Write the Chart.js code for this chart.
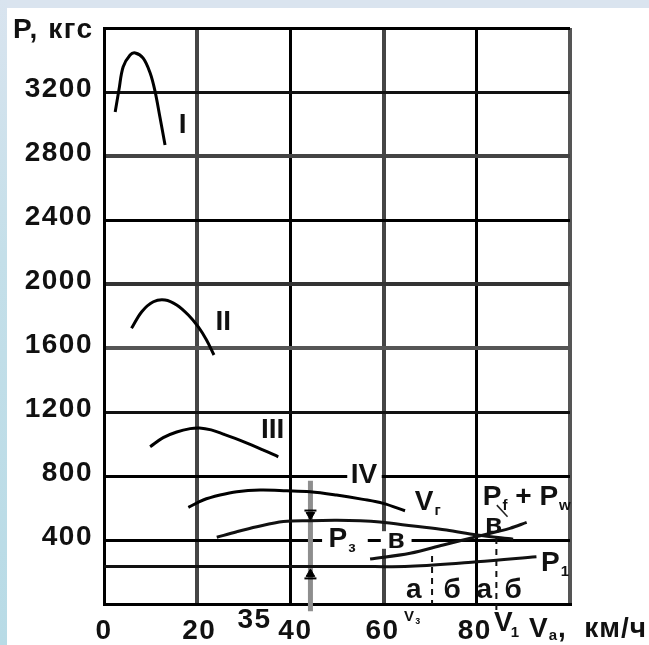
<!DOCTYPE html>
<html>
<head>
<meta charset="utf-8">
<script src="https://cdn.jsdelivr.net/npm/chart.js@4.4.1/dist/chart.umd.min.js"></script>
<style>
html,body{margin:0;padding:0;background:#fff;overflow:hidden;}
#wrap{position:relative;width:649px;height:645px;background:#fff;}
#topStrip{position:absolute;left:0;top:0;width:649px;height:8px;background:#dae4ef;}
#leftStrip{position:absolute;left:0;top:0;width:7px;height:645px;background:linear-gradient(to bottom,#d9e4ef,#c4dfe9 40%,#b8dbe6);}
canvas{position:absolute;left:0;top:0;}
</style>
</head>
<body>
<div id="wrap"><div id="topStrip"></div><div id="leftStrip"></div><canvas id="c" width="649" height="645"></canvas></div>
<script>
// ---- data (speed in km/h, force in kgf) ----
const speedI   = [2.4, 3.2, 4.1, 5.6, 6.7, 8.4, 9.9, 10.9, 12.0, 13.1];
const forceI   = [3075, 3212, 3356, 3431, 3444, 3412, 3319, 3212, 3044, 2869];
const speedII  = [5.9, 8.1, 10.6, 13.1, 15.6, 18.1, 20.2, 22.0, 23.6];
const forceII  = [1723, 1827, 1889, 1900, 1869, 1806, 1733, 1650, 1556];
const speedIII = [9.9, 12.7, 15.6, 18.5, 20.5, 23.0, 25.6, 29.9, 34.2, 37.4];
const forceIII = [983, 1040, 1075, 1096, 1100, 1088, 1062, 1015, 962, 920];
const speedIV  = [18.1, 21.3, 24.9, 28.5, 33.5, 39.2, 44.2, 49.9, 55.6, 59.9, 64.6];
const forceIV  = [604, 650, 681, 702, 712, 708, 702, 681, 654, 629, 583];
const speedPk  = [24.2, 28.5, 32.8, 38.5, 44.2, 50.0, 55.0, 59.2, 66.4, 73.5, 80.0, 87.8];
const forcePk  = [417, 452, 483, 515, 521, 523, 520, 512, 487, 462, 431, 405];
const speedPfw = [57.1, 65.7, 72.8, 80.0, 87.1, 90.7];
const forcePfw = [281, 317, 369, 421, 473, 510];
const speedP1  = [0, 20, 40, 55, 65.7, 80, 92.8];
const forceP1  = [235, 235, 235, 234, 236, 264, 296];
// reserve-force dimension line at 44.3 km/h, speeds V3 and V1
const reserveSpeed = 44.3;
const reserveTop = 770, reserveBottom = -45;
const arrowDownForce = 556, arrowUpForce = 188;
const barTopForce = 584, barBottomForce = 160;
const v3Speed = 70.4, v3Top = 300;
const v1Speed = 84.2, v1Top = 412, v1Bottom = -60;
// tick labels
const yTickValues = [400, 800, 1200, 1600, 2000, 2400, 2800, 3200];
const yTickLabels = ['400','800','1200','1600','2000','2400','2800','3200'];
const xTickValues = [0, 20, 40, 60, 80];
const xTickLabels = ['0','20','40','60','80'];
const yTitle = 'P, кгс';

const pts = (xs, ys) => xs.map((v, i) => ({x: v, y: ys[i]}));

const FONT = 'bold 28px "Liberation Sans", Arial, sans-serif';
const SUBFONT = 'bold 15px "Liberation Sans", Arial, sans-serif';

function curve(xs, ys, color){
  return {data: pts(xs, ys), showLine: true, borderColor: color || '#000', borderWidth: 3,
          pointRadius: 0, tension: 0.35, fill: false};
}

// text annotations in data coordinates
const notes = [
  {t:'I', x:16.9, y:2994}, {t:'II', x:25.6, y:1762}, {t:'III', x:36.2, y:1087},
  {t:'IV', x:55.8, y:806}, {t:'V', sub:'г', x:68.7, y:637},
  {t:'P', sub:'з', x:50.2, y:406}, {t:'в', x:62.7, y:400},
  {t:'P', sub:'f', x:83.3, y:669, after:' + P', sub2:'w'},
  {t:'в', x:83.6, y:494}, {t:'P', sub:'1', x:95.8, y:256},
  {t:'а', x:66.5, y:88}, {t:'б', x:74.7, y:88}, {t:'а', x:81.6, y:88}, {t:'б', x:87.8, y:88}
];
const whiteBoxes = [
  {x0:52.2, x1:59.6, y0:720, y1:885},
  {x0:46.8, x1:56.6, y0:340, y1:470},
  {x0:59.4, x1:66.0, y0:345, y1:455}
];

const textPlugin = {
  id: 'texts',
  beforeDatasetsDraw(chart){
    const {ctx, scales:{x, y}} = chart;
    ctx.save(); ctx.fillStyle = '#fff';
    whiteBoxes.forEach(b => {
      const px0 = x.getPixelForValue(b.x0), px1 = x.getPixelForValue(b.x1);
      const py0 = y.getPixelForValue(b.y0), py1 = y.getPixelForValue(b.y1);
      ctx.fillRect(px0, py1, px1 - px0, py0 - py1);
    });
    ctx.restore();
  },
  afterDatasetsDraw(chart){
    const {ctx, scales:{x, y}, chartArea} = chart;
    ctx.save();
    ctx.fillStyle = '#111';
    ctx.textBaseline = 'middle';
    // y tick labels
    ctx.font = FONT; ctx.textAlign = 'right';
    ctx.letterSpacing = '1.5px';
    yTickValues.forEach((v, i) => ctx.fillText(yTickLabels[i], chartArea.left - 11, y.getPixelForValue(v) - 3));
    ctx.textAlign = 'left';
    ctx.fillText(yTitle, 13, 30);
    // x tick labels
    ctx.textAlign = 'center';
    const by = chartArea.bottom + 27;
    const xShift = [0, 2, 5, -1, -2];
    xTickValues.forEach((v, i) => ctx.fillText(xTickLabels[i], x.getPixelForValue(v) + xShift[i], by));
    ctx.fillText('35', x.getPixelForValue(32.3), by - 11);
    ctx.letterSpacing = '0px';
    // V3 small
    ctx.textAlign = 'left';
    ctx.font = 'bold 15px "Liberation Sans", Arial, sans-serif';
    ctx.fillText('V', x.getPixelForValue(64.4), by - 14);
    ctx.font = 'bold 10px "Liberation Sans", Arial, sans-serif';
    ctx.fillText('з', x.getPixelForValue(66.8), by - 10);
    // V1
    ctx.font = FONT;
    ctx.fillText('V', x.getPixelForValue(83.7), by - 8);
    ctx.font = SUBFONT;
    ctx.fillText('1', x.getPixelForValue(87.3), by + 2);
    // Va, km/h
    ctx.font = FONT;
    ctx.letterSpacing = '1px';
    const vx = x.getPixelForValue(91.2);
    ctx.fillText('V', vx, by - 2);
    let w = ctx.measureText('V').width;
    ctx.font = SUBFONT;
    ctx.fillText('a', vx + w, by + 5);
    let w2 = ctx.measureText('a').width;
    ctx.font = FONT;
    ctx.fillText(',  км/ч', vx + w + w2, by - 2);
    ctx.letterSpacing = '0px';
    // in-plot notes
    notes.forEach(n => {
      ctx.font = FONT;
      ctx.textAlign = 'center';
      const px = x.getPixelForValue(n.x), py = y.getPixelForValue(n.y);
      ctx.fillText(n.t, px, py);
      let cx = px + ctx.measureText(n.t).width / 2;
      if (n.sub){
        ctx.font = SUBFONT; ctx.textAlign = 'left';
        ctx.fillText(n.sub, cx + 1, py + 9);
        cx += ctx.measureText(n.sub).width + 1;
      }
      if (n.after){
        ctx.font = FONT; ctx.textAlign = 'left';
        ctx.fillText(n.after, cx, py);
        cx += ctx.measureText(n.after).width;
        ctx.font = SUBFONT;
        ctx.fillText(n.sub2, cx + 1, py + 9);
      }
    });
    ctx.restore();
  }
};

const gridColorsX = {0:'#000', 20:'#454545', 40:'#000', 60:'#454545', 80:'#000', 100:'#555'};
const gridWidthX  = {0:3, 20:4, 40:3, 60:4, 80:3, 100:4};
const gridColorsY = {0:'#000', 400:'#000', 800:'#000', 1200:'#111', 1600:'#555', 2000:'#333', 2400:'#000', 2800:'#444', 3200:'#111', 3600:'#000'};
const gridWidthY  = {0:3, 400:3, 800:3, 1200:3, 1600:4, 2000:4, 2400:3, 2800:4, 3200:3, 3600:3};

new Chart(document.getElementById('c'), {
  type: 'scatter',
  data: {
    datasets: [
      // arrowheads first so they are drawn on top
      {data:[{x:reserveSpeed, y:arrowDownForce}], showLine:false, pointStyle:'triangle', pointRotation:180, pointRadius:5, pointBackgroundColor:'#000', pointBorderColor:'#000', pointBorderWidth:1},
      {data:[{x:reserveSpeed, y:arrowUpForce}], showLine:false, pointStyle:'triangle', pointRotation:0, pointRadius:5, pointBackgroundColor:'#000', pointBorderColor:'#000', pointBorderWidth:1},
      {data:[{x:reserveSpeed, y:barTopForce},{x:reserveSpeed, y:barBottomForce}], showLine:false, pointStyle:'line', pointRadius:6, pointBorderColor:'#000', pointBorderWidth:2},
      curve(speedI, forceI), curve(speedII, forceII), curve(speedIII, forceIII), curve(speedIV, forceIV),
      curve(speedPk, forcePk, '#111'), curve(speedPfw, forcePfw, '#111'), curve(speedP1, forceP1, '#111'),
      {data:[{x:reserveSpeed, y:reserveTop},{x:reserveSpeed, y:reserveBottom}], showLine:true, borderColor:'#8e8e8e', borderWidth:5, pointRadius:0, clip:false},
      {data:[{x:v3Speed, y:v3Top},{x:v3Speed, y:0}], showLine:true, borderColor:'#111', borderWidth:2, borderDash:[6,5], pointRadius:0},
      {data:[{x:v1Speed, y:v1Top},{x:v1Speed, y:v1Bottom}], showLine:true, borderColor:'#111', borderWidth:2, borderDash:[6,5], pointRadius:0, clip:false},
      {data:[{x:84.3, y:618},{x:86.6, y:545}], showLine:true, borderColor:'#222', borderWidth:1.5, pointRadius:0}
    ]
  },
  options: {
    responsive: false, devicePixelRatio: 1, animation: false,
    layout: {padding: {left: 104, top: 28, right: 79, bottom: 41}},
    plugins: {legend: {display: false}, tooltip: {enabled: false}},
    scales: {
      x: {type:'linear', min:0, max:100,
          ticks:{display:false, stepSize:20},
          grid:{drawTicks:false, color: c => gridColorsX[c.tick.value] || '#000', lineWidth: c => gridWidthX[c.tick.value] || 3},
          border:{display:true, color:'#000', width:3}},
      y: {type:'linear', min:0, max:3600,
          ticks:{display:false, stepSize:400},
          grid:{drawTicks:false, color: c => gridColorsY[c.tick.value] || '#000', lineWidth: c => gridWidthY[c.tick.value] || 3},
          border:{display:true, color:'#000', width:3}}
    }
  },
  plugins: [textPlugin]
});
</script>
</body>
</html>
